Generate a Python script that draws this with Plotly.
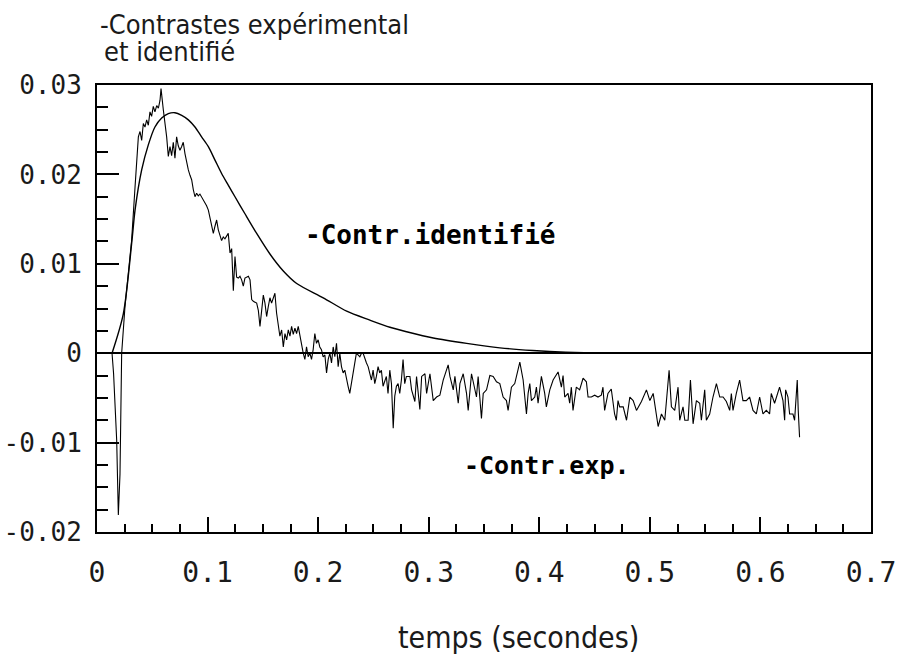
import plotly.graph_objects as go

t_exp = [0.0136, 0.0150, 0.0178, 0.0187, 0.0193, 0.0208, 0.0217, 0.0223, 0.0253, 0.0313,
         0.0344, 0.0374, 0.0389, 0.0404, 0.0419, 0.0434, 0.0449, 0.0464, 0.0479, 0.0494,
         0.0509, 0.0524, 0.0540, 0.0555, 0.0570, 0.0579, 0.0600, 0.0615, 0.0630, 0.0645,
         0.0660, 0.0675, 0.0690, 0.0705, 0.0720, 0.0735, 0.0750, 0.0765, 0.0780, 0.0796,
         0.0811, 0.0826, 0.0841, 0.0856, 0.0871, 0.0886, 0.0901, 0.0916, 0.0931, 0.0946,
         0.0961, 0.0976, 0.0991, 0.1007, 0.1022, 0.1037, 0.1052, 0.1067, 0.1082, 0.1097,
         0.1112, 0.1127, 0.1142, 0.1157, 0.1172, 0.1187, 0.1203, 0.1218, 0.1233, 0.1248,
         0.1263, 0.1278, 0.1293, 0.1308, 0.1323, 0.1338, 0.1369, 0.1384, 0.1399, 0.1414,
         0.1444, 0.1459, 0.1474, 0.1489, 0.1504, 0.1519, 0.1534, 0.1549, 0.1564, 0.1579,
         0.1594, 0.1609, 0.1624, 0.1639, 0.1654, 0.1670, 0.1685, 0.1700, 0.1715, 0.1730,
         0.1745, 0.1760, 0.1775, 0.1790, 0.1805, 0.1820, 0.1835, 0.1850, 0.1865, 0.1880,
         0.1895, 0.1910, 0.1925, 0.1940, 0.1955, 0.1970, 0.1985, 0.2000, 0.2015, 0.2030,
         0.2045, 0.2061, 0.2076, 0.2091, 0.2106, 0.2121, 0.2136, 0.2151, 0.2166, 0.2181,
         0.2196, 0.2211, 0.2226, 0.2241, 0.2256, 0.2271, 0.2286, 0.2301, 0.2316, 0.2331,
         0.2346, 0.2377, 0.2392, 0.2407, 0.2422, 0.2437, 0.2452, 0.2467, 0.2482, 0.2497,
         0.2512, 0.2527, 0.2542, 0.2557, 0.2572, 0.2587, 0.2602, 0.2617, 0.2632, 0.2648,
         0.2663, 0.2679, 0.2693, 0.2708, 0.2723, 0.2738, 0.2753, 0.2768, 0.2783, 0.2798,
         0.2830, 0.2845, 0.2875, 0.2890, 0.2920, 0.2936, 0.2966, 0.2981, 0.3011, 0.3041,
         0.3071, 0.3101, 0.3131, 0.3176, 0.3192, 0.3222, 0.3237, 0.3267, 0.3282, 0.3312,
         0.3342, 0.3357, 0.3387, 0.3417, 0.3432, 0.3447, 0.3477, 0.3493, 0.3523, 0.3553,
         0.3583, 0.3613, 0.3643, 0.3673, 0.3703, 0.3718, 0.3748, 0.3778, 0.3809, 0.3824,
         0.3854, 0.3884, 0.3899, 0.3914, 0.3929, 0.3959, 0.3974, 0.3989, 0.4019, 0.4049,
         0.4064, 0.4095, 0.4125, 0.4155, 0.4170, 0.4200, 0.4215, 0.4230, 0.4260, 0.4275,
         0.4290, 0.4305, 0.4335, 0.4365, 0.4396, 0.4426, 0.4441, 0.4471, 0.4501, 0.4531,
         0.4561, 0.4576, 0.4591, 0.4621, 0.4651, 0.4681, 0.4697, 0.4712, 0.4727, 0.4759,
         0.4789, 0.4819, 0.4849, 0.4879, 0.4924, 0.4969, 0.5000, 0.5030, 0.5060, 0.5075,
         0.5105, 0.5135, 0.5174, 0.5195, 0.5225, 0.5255, 0.5270, 0.5300, 0.5316, 0.5346,
         0.5367, 0.5391, 0.5421, 0.5451, 0.5466, 0.5496, 0.5511, 0.5541, 0.5571, 0.5602,
         0.5632, 0.5662, 0.5692, 0.5722, 0.5737, 0.5752, 0.5782, 0.5812, 0.5842, 0.5872,
         0.5902, 0.5933, 0.5963, 0.5993, 0.6023, 0.6053, 0.6083, 0.6098, 0.6128, 0.6173,
         0.6204, 0.6219, 0.6228, 0.6249, 0.6264, 0.6294, 0.6309, 0.6333, 0.6342, 0.6354]
v_exp = [0.0, -0.0023, -0.0097, -0.0135, -0.0181, -0.0135, -0.0060, 0.0, 0.0052, 0.0126,
         0.0186, 0.0242, 0.0248, 0.0238, 0.0257, 0.0253, 0.0261, 0.0255, 0.0270, 0.0265,
         0.0276, 0.0270, 0.0277, 0.0274, 0.0283, 0.0296, 0.0272, 0.0259, 0.0242, 0.0220,
         0.0231, 0.0221, 0.0236, 0.0218, 0.0242, 0.0232, 0.0227, 0.0231, 0.0236, 0.0223,
         0.0212, 0.0205, 0.0199, 0.0194, 0.0183, 0.0175, 0.0179, 0.0176, 0.0178, 0.0175,
         0.0172, 0.0169, 0.0165, 0.0160, 0.0152, 0.0145, 0.0134, 0.0142, 0.0149, 0.0138,
         0.0131, 0.0126, 0.0130, 0.0128, 0.0131, 0.0134, 0.0112, 0.0117, 0.0070, 0.0108,
         0.0085, 0.0084, 0.0086, 0.0082, 0.0075, 0.0084, 0.0086, 0.0082, 0.0060, 0.0058,
         0.0056, 0.0048, 0.0030, 0.0045, 0.0065, 0.0056, 0.0041, 0.0052, 0.0062, 0.0056,
         0.0063, 0.0067, 0.0045, 0.0034, 0.0019, 0.0026, 0.0007, 0.0022, 0.0015, 0.0026,
         0.0019, 0.0030, 0.0021, 0.0028, 0.0022, 0.0030, 0.0019, 0.0011, 0.0000, -0.0007,
         0.0007, -0.0004, 0.0000, -0.0007, 0.0004, 0.0022, 0.0011, 0.0015, 0.0007, 0.0004,
         -0.0004, -0.0002, -0.0022, -0.0007, 0.0000, -0.0011, 0.0007, -0.0004, 0.0011, -0.0015,
         0.0000, -0.0015, -0.0022, -0.0019, -0.0030, -0.0037, -0.0045, -0.0034, -0.0022, -0.0009,
         0.0000, -0.0004, 0.0000, 0.0000, -0.0007, -0.0011, -0.0015, -0.0022, -0.0030, -0.0019,
         -0.0034, -0.0026, -0.0015, -0.0022, -0.0019, -0.0037, -0.0030, -0.0026, -0.0045, -0.0019,
         -0.0034, -0.0084, -0.0048, -0.0037, -0.0034, -0.0045, -0.0030, -0.0007, -0.0034, -0.0026,
         -0.0026, -0.0041, -0.0054, -0.0026, -0.0063, -0.0026, -0.0023, -0.0045, -0.0023, -0.0053,
         -0.0049, -0.0047, -0.0030, -0.0013, -0.0026, -0.0041, -0.0026, -0.0056, -0.0034, -0.0023,
         -0.0045, -0.0064, -0.0023, -0.0038, -0.0049, -0.0026, -0.0073, -0.0045, -0.0041, -0.0025,
         -0.0026, -0.0032, -0.0034, -0.0049, -0.0053, -0.0064, -0.0038, -0.0034, -0.0015, -0.0010,
         -0.0030, -0.0068, -0.0045, -0.0034, -0.0053, -0.0049, -0.0038, -0.0056, -0.0026, -0.0045,
         -0.0060, -0.0041, -0.0030, -0.0023, -0.0021, -0.0038, -0.0025, -0.0049, -0.0045, -0.0056,
         -0.0038, -0.0064, -0.0038, -0.0041, -0.0028, -0.0032, -0.0049, -0.0049, -0.0047, -0.0049,
         -0.0047, -0.0038, -0.0064, -0.0045, -0.0040, -0.0068, -0.0075, -0.0053, -0.0060, -0.0060,
         -0.0075, -0.0049, -0.0053, -0.0064, -0.0054, -0.0041, -0.0053, -0.0045, -0.0071, -0.0082,
         -0.0068, -0.0075, -0.0019, -0.0060, -0.0064, -0.0038, -0.0075, -0.0060, -0.0075, -0.0075,
         -0.0030, -0.0079, -0.0053, -0.0056, -0.0075, -0.0041, -0.0075, -0.0068, -0.0049, -0.0034,
         -0.0049, -0.0049, -0.0054, -0.0064, -0.0045, -0.0064, -0.0045, -0.0030, -0.0053, -0.0053,
         -0.0049, -0.0064, -0.0068, -0.0049, -0.0068, -0.0064, -0.0068, -0.0045, -0.0056, -0.0038,
         -0.0053, -0.0075, -0.0041, -0.0049, -0.0068, -0.0068, -0.0075, -0.0030, -0.0064, -0.0094]

# identified contrast (model)
t_id = [0.0136, 0.0238, 0.0316, 0.0344, 0.0404, 0.0464, 0.0524, 0.0585, 0.0645, 0.0705,
        0.0766, 0.0826, 0.0886, 0.0946, 0.1007, 0.1067, 0.1127, 0.1187, 0.1248, 0.1338,
        0.1444, 0.1564, 0.1685, 0.1806, 0.2046, 0.2258, 0.2468, 0.2649, 0.2800, 0.3041,
        0.3343, 0.3644, 0.3940, 0.4240, 0.4600, 0.5200, 0.5800, 0.6360]
v_id = [0.0, 0.0044, 0.0126, 0.0160, 0.0205, 0.0233, 0.0253, 0.0263, 0.0268, 0.0269,
        0.0266, 0.0261, 0.0253, 0.0242, 0.0231, 0.0216, 0.0201, 0.0188, 0.0175, 0.0156,
        0.0134, 0.0111, 0.0092, 0.0078, 0.0062, 0.0047, 0.0037, 0.0029, 0.0024, 0.0017,
        0.0011, 0.0006, 0.0003, 0.0001, 0.0, 0.0, 0.0, 0.0]

x_ticks = [0, 0.1, 0.2, 0.3, 0.4, 0.5, 0.6, 0.7]
x_labels = ["0", "0.1", "0.2", "0.3", "0.4", "0.5", "0.6", "0.7"]
y_ticks = [-0.02, -0.01, 0, 0.01, 0.02, 0.03]
y_labels = ["-0.02", "-0.01", "0", "0.01", "0.02", "0.03"]

thin = "Liberation Sans Narrow, DejaVu Sans Condensed, DejaVu Sans, sans-serif"
mono = "DejaVu Sans Mono, Liberation Mono, monospace"
ink = "#1a1a1a"

fig = go.Figure()
fig.add_trace(go.Scatter(x=t_id, y=v_id, mode="lines",
                         line=dict(color="black", width=1.4, shape="spline", smoothing=0.8)))
fig.add_trace(go.Scatter(x=t_exp, y=v_exp, mode="lines",
                         line=dict(color="black", width=1.1)))

# plot frame spans 447 px in height, 774 px in width
fig.add_annotation(x=0.001, y=1.136, xref="paper", yref="paper", xanchor="left", yanchor="middle",
                   text="-Contrastes expérimental", showarrow=False,
                   font=dict(family=thin, size=27, color=ink))
fig.add_annotation(x=0.007, y=1.076, xref="paper", yref="paper", xanchor="left", yanchor="middle",
                   text="et identifié", showarrow=False,
                   font=dict(family=thin, size=27, color=ink))
fig.add_annotation(x=0.186, y=0.0132, xanchor="left", yanchor="middle",
                   text="-Contr.identifié", showarrow=False,
                   font=dict(family=mono, size=26, color="black", weight="bold"))
fig.add_annotation(x=0.330, y=-0.0126, xanchor="left", yanchor="middle",
                   text="-Contr.exp.", showarrow=False,
                   font=dict(family=mono, size=25, color="black", weight="bold"))
fig.add_annotation(x=0.545, y=-0.235, xref="paper", yref="paper",
                   xanchor="center", yanchor="middle",
                   text="temps (secondes)", showarrow=False,
                   font=dict(family=thin, size=30, color=ink))

fig.update_xaxes(range=[0, 0.7], tickmode="array", tickvals=x_ticks, ticktext=x_labels,
                 showline=True, linecolor="black", linewidth=2, mirror=True,
                 ticks="inside", ticklen=15, tickwidth=1.5, tickcolor="black",
                 minor=dict(tick0=0, dtick=0.025, ticks="inside", ticklen=8,
                            tickwidth=1.5, tickcolor="black"),
                 ticklabelstandoff=14, ticklabeloverflow="allow",
                 showgrid=False, zeroline=False, automargin=False,
                 tickfont=dict(family=mono, size=28, color=ink))
fig.update_yaxes(range=[-0.02, 0.03], tickmode="array", tickvals=y_ticks, ticktext=y_labels,
                 showline=True, linecolor="black", linewidth=2, mirror=True,
                 ticks="inside", ticklen=22, tickwidth=1.5, tickcolor="black",
                 minor=dict(tick0=0, dtick=0.0025, ticks="inside", ticklen=11,
                            tickwidth=1.5, tickcolor="black"),
                 ticklabelstandoff=8, ticklabeloverflow="allow",
                 showgrid=False, automargin=False,
                 zeroline=True, zerolinecolor="black", zerolinewidth=1.6,
                 tickfont=dict(family=mono, size=26, color=ink))

fig.update_layout(width=901, height=657, showlegend=False,
                  plot_bgcolor="white", paper_bgcolor="white",
                  margin=dict(l=97, r=30, t=85, b=125))

# drop the default 8 px page margin so the figure fills the window
fig.write_html("out.html", config={"displayModeBar": False},
               post_script="document.body.style.margin = '0';")
